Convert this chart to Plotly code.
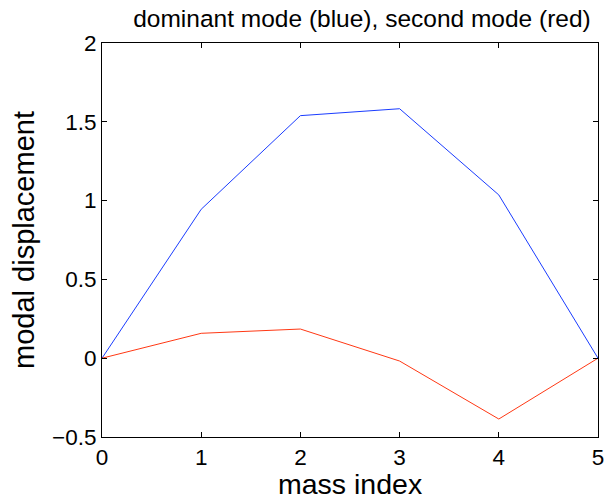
import plotly.graph_objects as go

mass_index = [0, 1, 2, 3, 4, 5]
dominant_mode = [0, 0.945, 1.539, 1.583, 1.036, 0]
second_mode = [0, 0.158, 0.185, -0.018, -0.386, 0]

x_tick_vals = [0, 1, 2, 3, 4, 5]
x_tick_text = ["0", "1", "2", "3", "4", "5"]
y_tick_vals = [-0.5, 0, 0.5, 1, 1.5, 2]
y_tick_text = ["\u22120.5", "0", "0.5", "1", "1.5", "2"]

title_text = "dominant mode (blue), second mode (red)"
x_title = "mass index"
y_title = "modal displacement"

FONT = "Liberation Sans, Arial, Helvetica, sans-serif"

fig = go.Figure()
fig.add_trace(go.Scatter(x=mass_index, y=dominant_mode, mode="lines",
                         line=dict(color="#1a3cff", width=1), showlegend=False))
fig.add_trace(go.Scatter(x=mass_index, y=second_mode, mode="lines",
                         line=dict(color="#ff3814", width=1), showlegend=False))

fig.update_layout(
    width=611, height=501,
    margin=dict(l=102, r=7, t=43, b=64),
    paper_bgcolor="white", plot_bgcolor="white",
    font=dict(family=FONT, color="black"),
    title=dict(text=title_text, x=362 / 611, xanchor="center", xref="container",
               y=1 - 18 / 501, yanchor="middle", yref="container",
               font=dict(size=24.5, family=FONT, color="black")),
    annotations=[dict(text=x_title, xref="paper", x=0.5, xanchor="center",
                      yref="paper", y=-47 / 394, yanchor="middle", showarrow=False,
                      font=dict(size=28.5, family=FONT, color="black"))],
)
fig.update_xaxes(
    range=[0, 5], tickvals=x_tick_vals, ticktext=x_tick_text,
    ticks="inside", ticklen=5, tickwidth=1, tickcolor="black",
    showline=True, linecolor="black", linewidth=1, mirror="ticks",
    showgrid=False, zeroline=False,
    tickfont=dict(size=22.5, family=FONT, color="black"),
)
fig.update_yaxes(
    range=[-0.5, 2], tickvals=y_tick_vals, ticktext=y_tick_text,
    ticks="inside", ticklen=5, tickwidth=1, tickcolor="black",
    showline=True, linecolor="black", linewidth=1, mirror="ticks",
    showgrid=False, zeroline=False,
    tickfont=dict(size=22.5, family=FONT, color="black"),
    title=dict(text=y_title, font=dict(size=29, family=FONT, color="black"), standoff=8),
)

fig.write_html("out.html")
